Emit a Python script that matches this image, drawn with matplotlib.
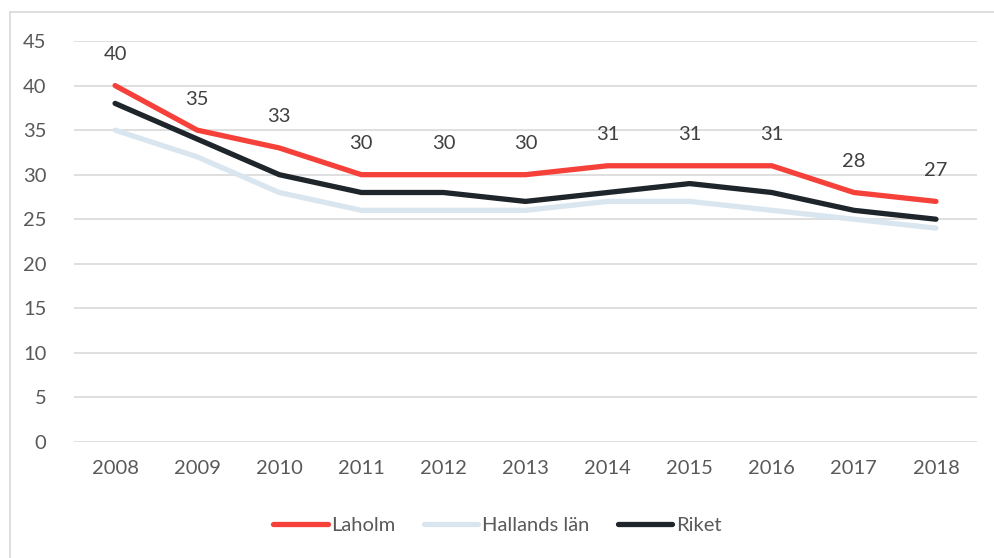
import matplotlib.pyplot as plt
from matplotlib.lines import Line2D

years = ["2008", "2009", "2010", "2011", "2012", "2013", "2014", "2015", "2016", "2017", "2018"]
laholm = [40, 35, 33, 30, 30, 30, 31, 31, 31, 28, 27]
hallands = [35, 32, 28, 26, 26, 26, 27, 27, 26, 25, 24]
riket = [38, 34, 30, 28, 28, 27, 28, 29, 28, 26, 25]
y_ticks = [0, 5, 10, 15, 20, 25, 30, 35, 40, 45]

plt.rcParams['font.family'] = ['Lato', 'DejaVu Sans']
text_color = '#595959'
fs = 14.5

fig = plt.figure(figsize=(9.95, 5.58), dpi=100)
ax = fig.add_axes([0.0744, 0.2079, 0.9075, 0.7186])

# outer chart frame (left and top edges visible)
fig.add_artist(Line2D([10 / 995, 10 / 995], [0, 1 - 12 / 558], transform=fig.transFigure,
                      color='#d9d9d9', lw=1.2))
fig.add_artist(Line2D([10 / 995, 1], [1 - 12 / 558, 1 - 12 / 558], transform=fig.transFigure,
                      color='#d9d9d9', lw=1.2))

x = list(range(len(years)))
series = [
    (laholm, 'Laholm', '#f5413a'),
    (hallands, 'Hallands län', '#dae6ef'),
    (riket, 'Riket', '#1e252b'),
]
for vals, name, col in series[::-1]:
    ax.plot(x, vals, color=col, lw=3.8, solid_capstyle='round', solid_joinstyle='round',
            label=name, zorder=3)

for xi, v in zip(x, laholm):
    ax.annotate(str(v), (xi, v), xytext=(0, 31), textcoords='offset pixels',
                ha='center', va='center', fontsize=fs, color='#404040')

ax.set_xlim(-0.5, len(years) - 0.5)
ax.set_ylim(0, 45)
ax.set_yticks(y_ticks)
ax.set_xticks(x)
ax.set_xticklabels(years)
ax.grid(axis='y', color='#d9d9d9', lw=1.2, zorder=0)
ax.set_axisbelow(True)
for s in ax.spines.values():
    s.set_visible(False)
ax.tick_params(length=0, labelsize=fs, labelcolor=text_color)
ax.tick_params(axis='y', pad=20)
ax.tick_params(axis='x', pad=13)

handles, labels = ax.get_legend_handles_labels()
handles, labels = handles[::-1], labels[::-1]
leg = fig.legend(handles, labels, loc='center', bbox_to_anchor=(0.5, 1 - 525 / 558),
                 ncol=3, frameon=False, fontsize=fs, handlelength=2.7, handletextpad=0.2,
                 columnspacing=1.4, labelcolor=text_color)

fig.savefig('out.png', dpi=100)
